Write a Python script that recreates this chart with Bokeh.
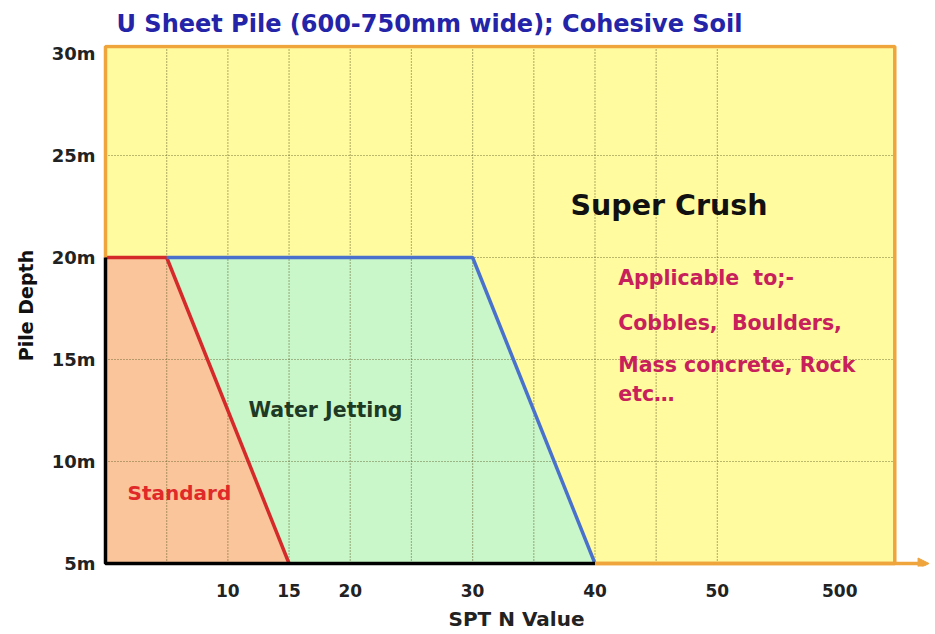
from bokeh.plotting import figure
from bokeh.models import Range1d, FixedTicker, Arrow, NormalHead
from bokeh.core.properties import value
from bokeh.embed import file_html
from bokeh.resources import INLINE

# ---- data ----
title_text = "U Sheet Pile (600-750mm wide); Cohesive Soil"
x_ticks = [10, 15, 20, 30, 40, 50, 60]
x_tick_labels = ["10", "15", "20", "30", "40", "50", "500"]
y_ticks = [5, 10, 15, 20, 25, 30]
y_tick_labels = ["5m", "10m", "15m", "20m", "25m", "30m"]
grid_x = [5, 10, 15, 20, 25, 30, 35, 40, 45, 50]
grid_y = [10, 15, 20, 25]
x_min, x_max = 0, 64.5
y_min, y_max = 5, 30.34
arrow_end = 67.3
standard_x = [0, 5, 15, 0]
standard_y = [20, 20, 5, 5]
jetting_x = [5, 30, 40, 15]
jetting_y = [20, 20, 5, 5]
standard_line_x = [0, 5, 15]
standard_line_y = [20, 20, 5]
jetting_line_x = [5, 30, 40]
jetting_line_y = [20, 20, 5]
super_lines = ["Applicable\u00a0 to;-", "Cobbles,\u00a0 Boulders,", "Mass concrete, Rock", "etc…"]
super_lines_y = [18.97, 16.81, 14.75, 13.33]

FONT = "DejaVu Sans"

p = figure(width=935, height=634, output_backend="svg", toolbar_location=None,
           x_range=Range1d(-0.327, 67.5), y_range=Range1d(4.853, 30.44),
           min_border_left=101, min_border_right=4, min_border_top=44, min_border_bottom=68)
p.outline_line_color = None
p.xgrid.visible = False
p.ygrid.visible = False
p.background_fill_color = "white"

p.title.text = title_text
p.title.text_font = FONT
p.title.text_font_size = "24px"
p.title.text_font_style = "bold"
p.title.text_color = "#2424A8"
p.title.offset = 15
p.title.standoff = 14

# yellow background
p.quad(left=[x_min], right=[x_max], bottom=[y_min], top=[y_max],
       fill_color="#FFFB9E", line_color=None)
# regions
p.patch(standard_x, standard_y, fill_color="#FAC59A", line_color=None)
p.patch(jetting_x, jetting_y, fill_color="#C9F7C9", line_color=None)

# dotted grid
p.segment(x0=grid_x, y0=[y_min] * len(grid_x), x1=grid_x, y1=[y_max] * len(grid_x),
          line_color="#5E5E28", line_width=1.2, line_dash="1 2", line_alpha=0.85)
p.segment(x0=[x_min] * len(grid_y), y0=grid_y, x1=[x_max] * len(grid_y), y1=grid_y,
          line_color="#5E5E28", line_width=1.2, line_dash="1 2", line_alpha=0.85)

# boundary lines
p.line(standard_line_x, standard_line_y, line_color="#D42A2A", line_width=3.5)
p.line(jetting_line_x, jetting_line_y, line_color="#4A72CC", line_width=3.5)

# orange border
p.line([x_min, x_min, x_max, x_max, 40], [20, y_max, y_max, y_min, y_min],
       line_color="#EFA43C", line_width=3.5)
p.add_layout(Arrow(end=NormalHead(size=11, fill_color="#EFA43C", line_color="#EFA43C"),
                   x_start=40, y_start=y_min, x_end=arrow_end, y_end=y_min,
                   line_color="#EFA43C", line_width=3.5))
# black axes
p.line([x_min, x_min, 40], [20, y_min, y_min], line_color="black", line_width=3.5)

# texts
p.text(x=[38.0], y=[22.55], text=["Super Crush"], text_font=value(FONT), text_font_style="bold",
       text_font_size="28.5px", text_color="#111111", text_baseline="middle", text_align="left")
p.text(x=[41.9] * len(super_lines), y=super_lines_y, text=super_lines, text_font=value(FONT),
       text_font_style="bold", text_font_size="20.5px", text_color="#C8205A",
       text_baseline="middle", text_align="left")
p.text(x=[11.68], y=[12.5], text=["Water Jetting"], text_font=value(FONT), text_font_style="bold",
       text_font_size="20.5px", text_color="#1E3A24", text_baseline="middle", text_align="left")
p.text(x=[1.8], y=[8.48], text=["Standard"], text_font=value(FONT), text_font_style="bold",
       text_font_size="20px", text_color="#E02A2A", text_baseline="middle", text_align="left")

# axes
xa = p.xaxis[0]
xa.ticker = FixedTicker(ticks=x_ticks)
xa.major_label_overrides = {t: l for t, l in zip(x_ticks, x_tick_labels)}
xa.axis_line_color = None
xa.major_tick_line_color = None
xa.minor_tick_line_color = None
xa.major_label_standoff = 11
xa.major_label_text_font = FONT
xa.major_label_text_font_style = "bold"
xa.major_label_text_font_size = "17px"
xa.major_label_text_color = "#222222"
xa.axis_label = "SPT N Value"
xa.axis_label_text_font = FONT
xa.axis_label_text_font_style = "bold"
xa.axis_label_text_font_size = "20px"
xa.axis_label_text_color = "#222222"
xa.axis_label_standoff = 7

ya = p.yaxis[0]
ya.ticker = FixedTicker(ticks=y_ticks)
ya.major_label_overrides = {t: l for t, l in zip(y_ticks, y_tick_labels)}
ya.axis_line_color = None
ya.major_tick_line_color = None
ya.minor_tick_line_color = None
ya.major_label_standoff = 0
ya.major_label_text_font = FONT
ya.major_label_text_font_style = "bold"
ya.major_label_text_font_size = "18px"
ya.major_label_text_color = "#222222"
ya.axis_label = "Pile Depth"
ya.axis_label_text_font = FONT
ya.axis_label_text_font_style = "bold"
ya.axis_label_text_font_size = "19px"
ya.axis_label_text_color = "#111111"
ya.axis_label_standoff = 12

open("out.html", "w").write(file_html(p, INLINE))
